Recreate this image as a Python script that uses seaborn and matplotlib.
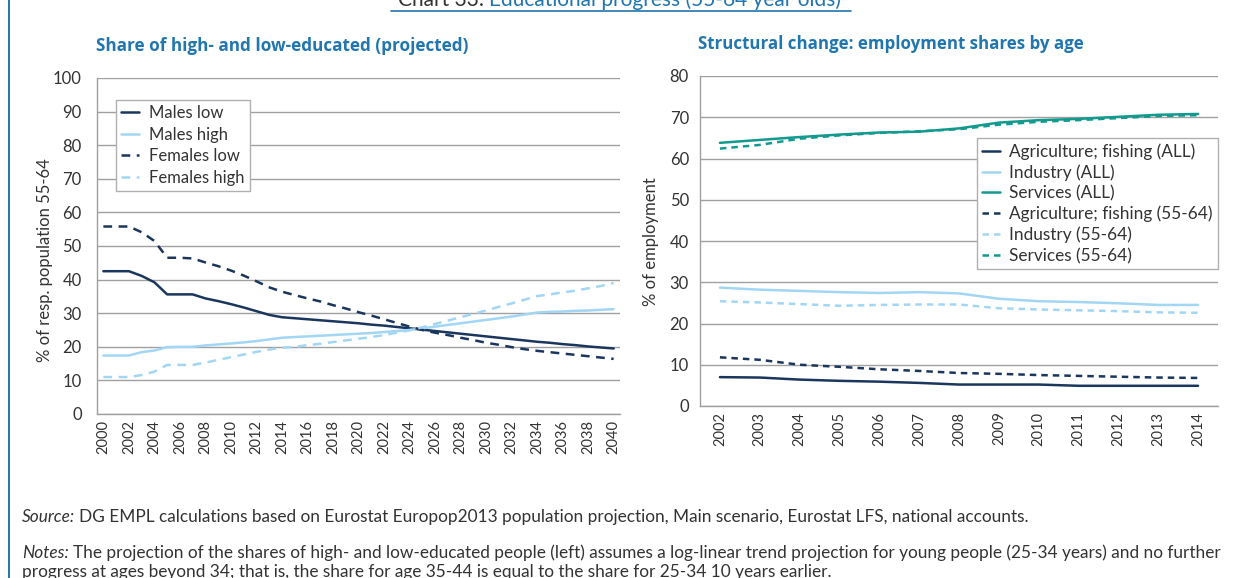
import matplotlib
matplotlib.use("Agg")
import matplotlib.pyplot as plt
from matplotlib.lines import Line2D
import numpy as np
import pandas as pd
import seaborn as sns

# ---- left panel: share of low/high educated, ages 55-64 (projected) ----
years_edu = list(range(2000, 2041))
males_low = [42.5, 42.5, 42.5, 41.1, 39.2, 35.6, 35.6, 35.6, 34.4, 33.6,
             32.7, 31.7, 30.6, 29.5, 28.8, 28.5, 28.2, 27.9, 27.6, 27.3,
             27.0, 26.6, 26.3, 25.9, 25.5, 25.1, 24.7, 24.3, 23.9, 23.5,
             23.1, 22.7, 22.3, 21.9, 21.5, 21.2, 20.8, 20.5, 20.1, 19.8, 19.5]
males_high = [17.4, 17.4, 17.4, 18.4, 18.9, 19.9, 20.0, 20.0, 20.4, 20.7,
              21.0, 21.3, 21.7, 22.2, 22.7, 22.9, 23.1, 23.3, 23.5, 23.7,
              23.9, 24.1, 24.4, 24.7, 25.0, 25.5, 26.0, 26.5, 27.0, 27.5,
              28.0, 28.5, 29.0, 29.6, 30.2, 30.4, 30.5, 30.7, 30.8, 31.0, 31.2]
females_low = [55.8, 55.8, 55.8, 54.1, 51.5, 46.5, 46.5, 46.3, 45.1, 44.0,
               42.7, 41.2, 39.5, 37.7, 36.4, 35.4, 34.4, 33.5, 32.4, 31.4,
               30.3, 29.3, 28.2, 27.1, 26.0, 25.0, 24.2, 23.5, 22.7, 22.0,
               21.2, 20.6, 19.9, 19.3, 18.8, 18.4, 18.0, 17.6, 17.2, 16.8, 16.4]
females_high = [11.0, 11.0, 11.0, 11.6, 12.6, 14.6, 14.6, 14.6, 15.3, 16.1,
                16.9, 17.7, 18.5, 19.2, 19.7, 20.0, 20.5, 20.9, 21.4, 21.9,
                22.4, 22.9, 23.5, 24.2, 24.9, 25.8, 26.8, 27.8, 28.8, 29.8,
                30.8, 31.9, 32.9, 34.0, 35.1, 35.6, 36.2, 36.7, 37.4, 38.1, 39.0]
edu_labels = ["Males low", "Males high", "Females low", "Females high"]

# ---- right panel: employment shares by sector ----
years_emp = list(range(2002, 2015))
agri_all = [7.0, 6.9, 6.4, 6.1, 5.9, 5.6, 5.2, 5.2, 5.2, 4.9, 4.9, 4.9, 4.9]
industry_all = [28.7, 28.2, 27.9, 27.6, 27.4, 27.6, 27.3, 26.0, 25.4, 25.2, 24.9, 24.5, 24.5]
services_all = [63.8, 64.5, 65.2, 65.8, 66.3, 66.5, 67.3, 68.7, 69.3, 69.6, 70.1, 70.6, 70.8]
agri_old = [11.8, 11.2, 10.0, 9.5, 8.9, 8.5, 8.0, 7.8, 7.5, 7.3, 7.1, 6.9, 6.8]
industry_old = [25.4, 25.1, 24.7, 24.3, 24.5, 24.6, 24.6, 23.7, 23.4, 23.2, 23.0, 22.7, 22.6]
services_old = [62.4, 63.3, 64.8, 65.6, 66.2, 66.6, 67.1, 68.2, 68.9, 69.3, 69.8, 70.3, 70.5]
emp_labels = ["Agriculture; fishing (ALL)", "Industry (ALL)", "Services (ALL)",
              "Agriculture; fishing (55-64)", "Industry (55-64)", "Services (55-64)"]

DARK = "#1b365d"
LIGHT = "#a2d6f5"
TEAL = "#139a8e"
BLUE = "#2176ae"
TEXT = "#333333"
GRID = "#a0a0a0"

sns.set_style("white")
plt.rcParams["font.family"] = "sans-serif"
plt.rcParams["font.sans-serif"] = ["Lato", "DejaVu Sans"]
plt.rcParams["text.color"] = TEXT
plt.rcParams["axes.labelcolor"] = TEXT
plt.rcParams["xtick.color"] = TEXT
plt.rcParams["ytick.color"] = TEXT

W, H = 1241, 578
fig = plt.figure(figsize=(W / 100, H / 100), dpi=100)
renderer = fig.canvas.get_renderer()


def px_axes(x0, y0, x1, y1):
    return fig.add_axes([x0 / W, 1 - y1 / H, (x1 - x0) / W, (y1 - y0) / H])


def style_axes(ax, ymax, ystep, years, label_step, ytick_len, xtick_len):
    ax.set_ylim(0, ymax)
    ax.set_xlim(years[0] - 0.5, years[-1] + 0.5)
    ax.set_yticks(np.arange(0, ymax + 1, ystep))
    ax.yaxis.grid(True, color=GRID, lw=1.0)
    ax.xaxis.grid(False)
    ax.set_axisbelow(True)
    for s in ("top", "right"):
        ax.spines[s].set_visible(False)
    for s in ("left", "bottom"):
        ax.spines[s].set_color(GRID)
        ax.spines[s].set_linewidth(1.0)
    ax.set_xticks(years[::label_step])
    ax.set_xticklabels([str(y) for y in years[::label_step]], rotation=90)
    ax.set_xticks(np.arange(years[0] - 0.5, years[-1] + 0.6, 1.0), minor=True)
    ax.tick_params(axis="x", which="major", length=0, pad=4, labelsize=10.5)
    ax.tick_params(axis="x", which="minor", length=xtick_len, color=GRID, width=1.0)
    ax.tick_params(axis="y", which="major", length=ytick_len, color=GRID, width=1.0,
                   labelsize=12, pad=3 if ytick_len else 8)
    ax.set_xlabel("")
    ax.set_ylabel("")


# ---------------- left panel ----------------
ax1 = px_axes(97, 78, 620, 414)
edu = pd.DataFrame({
    "year": years_edu * 4,
    "value": males_low + males_high + females_low + females_high,
    "series": sum([[lab] * len(years_edu) for lab in edu_labels], []),
})
sns.lineplot(data=edu, x="year", y="value", hue="series", style="series",
             hue_order=edu_labels, style_order=edu_labels,
             palette={"Males low": DARK, "Males high": LIGHT,
                      "Females low": DARK, "Females high": LIGHT},
             dashes={"Males low": "", "Males high": "",
                     "Females low": (3.5, 2.6), "Females high": (3.5, 2.6)},
             lw=1.8, ax=ax1)
style_axes(ax1, 100, 10, years_edu, 2, 8, 5)
handles, labels = ax1.get_legend_handles_labels()
ax1.legend(handles, labels, loc="upper left", bbox_to_anchor=(0.036, 0.936),
           frameon=True, fancybox=False, edgecolor="#b0b0b0", framealpha=1,
           fontsize=12, handlelength=1.1, handletextpad=0.6, labelspacing=0.34,
           borderpad=0.32, borderaxespad=0)

# ---------------- right panel ----------------
ax2 = px_axes(700, 76, 1218, 406)
emp = pd.DataFrame({
    "year": years_emp * 6,
    "value": agri_all + industry_all + services_all + agri_old + industry_old + services_old,
    "series": sum([[lab] * len(years_emp) for lab in emp_labels], []),
})
emp_palette = dict(zip(emp_labels, [DARK, LIGHT, TEAL, DARK, LIGHT, TEAL]))
emp_dashes = dict(zip(emp_labels, ["", "", "", (2.6, 2.0), (2.6, 2.0), (2.6, 2.0)]))
sns.lineplot(data=emp, x="year", y="value", hue="series", style="series",
             hue_order=emp_labels, style_order=emp_labels,
             palette=emp_palette, dashes=emp_dashes, lw=1.8, ax=ax2)
style_axes(ax2, 80, 10, years_emp, 1, 0, 8)
handles, labels = ax2.get_legend_handles_labels()
ax2.legend(handles, labels, loc="upper right", bbox_to_anchor=(1.0, 0.812),
           frameon=True, fancybox=False, edgecolor="#b0b0b0", framealpha=1,
           fontsize=12.4, handlelength=1.05, handletextpad=0.55, labelspacing=0.26,
           borderpad=0.3, borderaxespad=0)

# ---------------- axis labels and panel titles ----------------
fig.text(45 / W, 1 - 260 / H, "% of resp. population 55-64", rotation=90,
         ha="center", va="center", fontsize=12)
fig.text(651 / W, 1 - 242 / H, "% of employment", rotation=90,
         ha="center", va="center", fontsize=12)
fig.text(96 / W, 1 - 46 / H, "Share of high- and low-educated (projected)",
         color=BLUE, fontsize=12.3, fontweight="bold", family="Open Sans",
         ha="left", va="center")
fig.text(698 / W, 1 - 44 / H, "Structural change: employment shares by age",
         color=BLUE, fontsize=12.2, fontweight="bold", family="Open Sans",
         ha="left", va="center")

# ---------------- chart heading (partly above the frame) ----------------
head_lead = fig.text(398 / W, 1 - 6 / H, "Chart 33:", color=TEXT, fontsize=15,
                     ha="left", va="baseline")
lead_box = head_lead.get_window_extent(renderer=renderer)
fig.text(lead_box.x1 / W + 5 / W, 1 - 6 / H, "Educational progress (55-64 year olds)",
         color=BLUE, fontsize=15, ha="left", va="baseline")
fig.add_artist(Line2D([391 / W, 851 / W], [1 - 11 / H, 1 - 11 / H],
                      transform=fig.transFigure, color=BLUE, lw=1.2))
fig.add_artist(Line2D([9 / W, 9 / W], [0, 1], transform=fig.transFigure,
                      color=BLUE, lw=1.4))

# ---------------- source and notes ----------------
NOTE_SIZE = 12.4


def label_line(x, y, lead, rest, size=NOTE_SIZE):
    t = fig.text(x / W, 1 - y / H, lead, style="italic", fontsize=size,
                 ha="left", va="center", color=TEXT)
    bb = t.get_window_extent(renderer=renderer)
    fig.text(bb.x1 / W + 4 / W, 1 - y / H, rest, fontsize=size,
             ha="left", va="center", color=TEXT)


label_line(22, 517, "Source:",
           "DG EMPL calculations based on Eurostat Europop2013 population projection, "
           "Main scenario, Eurostat LFS, national accounts.")
label_line(22, 553, "Notes:",
           "The projection of the shares of high- and low-educated people (left) assumes "
           "a log-linear trend projection for young people (25-34 years) and no further")
fig.text(22 / W, 1 - 572 / H,
         "progress at ages beyond 34; that is, the share for age 35-44 is equal to the "
         "share for 25-34 10 years earlier.", fontsize=NOTE_SIZE, ha="left", va="center",
         color=TEXT)

fig.savefig("out.png", dpi=100)
